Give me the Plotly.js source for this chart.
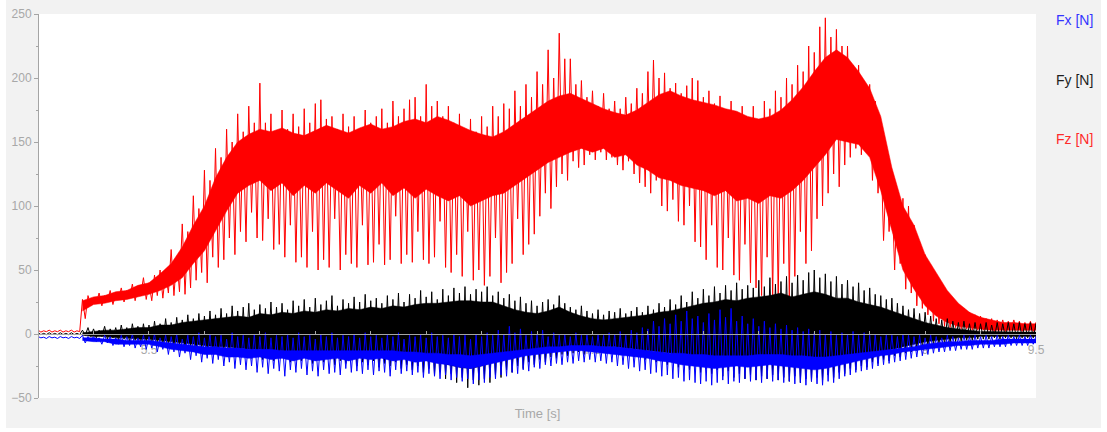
<!DOCTYPE html>
<html><head><meta charset="utf-8">
<script src="https://cdn.plot.ly/plotly-3.0.1.min.js"></script>
<style>html,body{margin:0;padding:0;background:#ffffff;}#chart{position:absolute;left:6px;top:0;width:1095px;height:428px;}</style>
</head><body><div id="chart"></div>
<script>
// ---- data ----
const seriesNames = ['Fx [N]', 'Fy [N]', 'Fz [N]'];
const xTitle = 'Time [s]';

// oscillation extremes: one peak and one trough per sample
const sigStart = 5.0, sigStep = 0.025;
const fzPeak = [3,2.5,3,2.5,3,2.5,3,2.5,27,
 30,28,32,30,34,32,36,34,39,37,
 44,40,46,50,48,66,60,86,80,
 108,98,128,120,145,138,160,150,172,158,178,165,
 196,165,172,158,175,160,172,162,176,165,
 180,183,168,170,160,172,162,170,160,175,
 165,170,176,165,182,170,176,183,185,170,
 195,178,182,170,178,165,172,160,168,158,
 170,162,178,170,180,176,190,178,195,185,
 205,195,222,200,235,215,215,195,198,185,
 190,178,188,176,182,176,185,180,192,188,
 205,214,200,204,192,196,188,194,200,198,
 185,190,180,186,175,182,170,178,168,178,
 165,182,176,190,185,200,195,210,205,225,
 220,240,247,232,238,225,225,210,210,195,
 195,182,150,130,118,110,106,100,85,72,
 62,54,45,38,32,27,23,20,17,15,
 14,12,12,11,11,10,11,10,9,10,9];
const fzTrough = [1.5,1.8,1.5,1.8,1.5,1.8,1.5,1.8,12,
 22,24,22,25,23,27,25,28,26,30,
 27,26,30,28,32,30,33,31,36,
 42,48,40,60,52,58,75,62,80,72,95,75,
 73,90,66,70,60,85,56,60,52,80,
 50,58,52,90,50,62,55,52,85,54,
 56,70,54,58,92,55,62,56,80,58,
 55,60,88,52,48,62,45,80,42,50,
 38,45,75,40,48,55,90,62,70,78,
 92,110,98,115,125,120,135,130,132,140,
 136,142,136,138,132,128,135,125,118,115,
 110,120,100,96,105,88,85,100,72,68,
 58,85,52,50,75,46,42,70,40,36,
 30,60,28,27,55,28,45,80,55,65,
 90,100,110,125,115,132,138,145,140,142,
 120,110,73,80,50,55,35,32,22,20,
 15,10,8,6,5,5,4,4,3,3,
 3,3,2,3,2,3,3,2,3,2,3];
const fyPeak = [1,0.5,1,0.5,1,0.5,1,0.5,3,5,
 4,3,6,4,5,7,5,8,6,8,
 7,10,8,12,9,13,11,15,12,16,
 14,18,15,20,16,22,18,21,24,19,
 23,20,25,21,24,19,26,22,27,21,
 28,23,26,30,22,27,24,29,25,31,
 26,28,24,30,27,32,25,31,28,34,
 29,33,27,35,30,36,32,37,31,35,
 33,37,30,33,28,31,26,29,24,26,
 22,25,27,23,30,24,21,19,22,18,
 16,19,15,18,17,20,16,18,21,17,
 22,19,24,21,27,23,30,25,33,28,
 35,30,37,32,38,34,40,35,38,36,
 42,37,44,39,41,45,40,46,42,48,
 50,44,47,41,45,39,42,37,40,34,
 36,31,30,27,28,24,22,19,20,16,
 17,14,12,11,12,10,9,10,8,9,
 8,9,7,9,8,9,8,9,8,9,8];
const fyTrough = [-0.5,-0.5,-0.5,-0.5,-0.5,-0.5,-0.5,-0.5,-1,-2,
 -3,-2,-4,-3,-5,-4,-6,-5,-7,-6,
 -8,-7,-9,-8,-10,-9,-12,-10,-13,-11,
 -14,-12,-15,-13,-17,-14,-18,-15,-19,-16,
 -20,-17,-21,-18,-19,-22,-18,-21,-19,-23,
 -20,-22,-19,-24,-21,-23,-20,-25,-22,-24,
 -21,-26,-23,-25,-22,-27,-24,-28,-25,-30,
 -27,-32,-29,-35,-31,-38,-34,-42,-36,-40,
 -35,-38,-32,-34,-28,-30,-25,-27,-22,-24,
 -20,-22,-18,-19,-16,-17,-15,-14,-16,-13,
 -14,-12,-15,-13,-14,-16,-15,-18,-16,-20,
 -18,-22,-20,-24,-22,-26,-24,-28,-25,-30,
 -27,-31,-28,-33,-29,-34,-31,-35,-32,-36,
 -33,-35,-32,-36,-34,-37,-33,-38,-35,-37,
 -34,-36,-32,-34,-30,-31,-27,-28,-25,-26,
 -22,-23,-20,-21,-17,-18,-15,-14,-13,-12,
 -10,-9,-8,-8,-7,-6,-6,-5,-5,-4,
 -4,-4,-3,-4,-3,-3,-4,-3,-3,-3,-3];
const fxPeak = [-2,-2.5,-2,-2.5,-2,-2.5,-2,-2.5,-1,-2,
 -2,-3,-1,-2,-3,-1,-2,0,-3,-1,
 -2,0,-3,-1,-2,0,-4,-1,-2,1,
 -3,0,-2,-1,-4,1,-2,-1,-3,0,
 -2,1,-3,-1,-2,0,-3,1,-2,-1,
 -4,0,-2,1,-3,-1,-2,0,-3,1,
 -2,-1,-3,0,-2,1,-4,-1,-2,0,
 -3,1,-2,-1,-3,0,-2,-1,-4,0,
 -2,1,-1,3,0,6,1,4,-1,2,
 0,3,-2,1,-1,0,-2,1,-1,0,
 -2,0,-1,1,0,2,-1,3,1,5,
 4,10,6,12,8,15,10,18,12,14,
 9,16,11,19,13,20,10,14,8,12,
 6,10,5,8,4,7,3,5,2,4,
 1,3,0,2,-1,1,0,2,-1,1,
 -1,0,-2,0,-1,-2,0,-1,-2,-1,
 -3,-1,-2,-3,-1,-2,-3,-1,-2,-1,
 -2,-1,-2,-1,-2,-1,-2,-1,-2,-1,-2];
const fxTrough = [-3,-3.5,-3,-3.5,-3,-3.5,-3,-3.5,-7,-5,
 -6,-8,-7,-9,-8,-10,-9,-11,-10,-12,
 -11,-14,-12,-16,-14,-18,-15,-20,-17,-22,
 -19,-23,-20,-25,-22,-27,-24,-28,-25,-30,
 -26,-31,-27,-29,-33,-28,-30,-27,-32,-29,
 -33,-28,-31,-30,-32,-27,-30,-29,-31,-28,
 -32,-29,-30,-33,-28,-31,-29,-32,-30,-34,
 -31,-33,-35,-32,-36,-34,-37,-35,-39,-36,
 -38,-34,-35,-32,-33,-30,-31,-28,-29,-26,
 -27,-24,-25,-23,-24,-22,-23,-21,-22,-20,
 -22,-21,-23,-22,-25,-24,-27,-26,-29,-28,
 -31,-30,-33,-32,-35,-34,-37,-36,-38,-39,
 -37,-40,-38,-36,-39,-37,-38,-35,-37,-36,
 -38,-35,-37,-36,-38,-37,-39,-38,-40,-37,
 -39,-40,-37,-38,-35,-33,-32,-30,-29,-28,
 -27,-25,-24,-23,-22,-21,-20,-19,-18,-17,
 -16,-15,-14,-14,-13,-13,-12,-12,-12,-11,
 -11,-11,-10,-10,-10,-9,-9,-9,-9,-8,-8];

// dense core of each signal (where most of the oscillation sits)
const coreStart = 5.2, coreStep = 0.05;
const fzCoreHi = [26,29,30,33,34,38,40,47,55,68,
 85,100,122,138,150,156,160,158,161,157,
 155,159,163,160,157,161,164,160,162,166,
 168,165,170,167,163,159,156,154,158,164,
 170,176,182,186,188,184,180,176,173,171,
 175,181,187,190,186,183,181,179,176,174,
 170,168,170,175,183,193,205,216,222,216,
 205,192,170,130,100,85,62,48,34,24,
 17,13,11,9,9,8,8];
const fzCoreLo = [18,23,24,26,27,29,31,34,38,44,
 55,65,80,96,110,116,120,112,118,108,
 116,110,118,112,106,116,110,118,108,114,
 106,113,108,104,108,100,104,108,110,116,
 122,128,134,138,142,145,142,145,138,140,
 132,128,122,120,116,114,112,108,112,104,
 106,102,108,106,112,120,130,140,152,150,
 148,138,112,80,50,35,22,14,9,6,
 5,4,3,3,3,3,3];
const fyCoreHi = [1,2,3,3,4,5,5,7,7,9,
 10,11,12,13,14,13,16,15,17,16,
 18,17,19,18,20,19,21,20,22,21,
 23,24,24,25,26,26,25,25,22,19,
 17,16,18,21,17,14,12,11,12,13,
 14,15,17,18,20,22,24,25,27,26,
 28,29,30,32,29,31,33,31,28,28,
 25,23,21,18,15,12,9,7,5,4,
 3,2,2,1.5,1.5,1.5,1.5];
const fyCoreLo = [-1,-2,-2,-3,-3,-4,-4,-5,-6,-7,
 -8,-9,-10,-10,-11,-12,-12,-13,-13,-14,
 -14,-15,-15,-16,-16,-16,-17,-17,-18,-18,
 -19,-20,-22,-24,-26,-27,-25,-22,-19,-16,
 -14,-12,-12,-12,-11,-10,-10,-10,-10,-11,
 -12,-13,-14,-15,-16,-17,-18,-19,-20,-20,
 -21,-21,-22,-22,-23,-23,-24,-23,-22,-20,
 -18,-16,-14,-12,-10,-8,-6,-5,-4,-3,
 -3,-2,-2,-2,-2,-2,-2];
const fxCoreHi = [-3,-3,-4,-4,-5,-5,-5,-6,-7,-8,
 -9,-10,-10,-11,-11,-12,-12,-12,-13,-13,
 -13,-13,-13,-13,-13,-13,-13,-13,-13,-14,
 -14,-15,-15,-16,-16,-17,-16,-15,-14,-13,
 -12,-11,-10,-10,-9,-9,-9,-10,-10,-11,
 -12,-13,-14,-15,-15,-16,-16,-17,-17,-17,
 -17,-16,-16,-16,-17,-17,-18,-18,-17,-16,
 -15,-14,-13,-12,-11,-10,-8,-7,-6,-6,
 -5,-5,-5,-4,-4,-4,-4];
const fxCoreLo = [-5,-6,-6,-8,-8,-8,-8,-10,-12,-13,
 -14,-16,-16,-18,-18,-19,-18,-20,-19,-21,
 -19,-21,-20,-19,-21,-19,-20,-19,-21,-20,
 -22,-21,-23,-24,-26,-27,-25,-23,-21,-19,
 -17,-16,-15,-14,-13,-13,-14,-15,-16,-17,
 -18,-19,-21,-22,-24,-25,-26,-27,-26,-25,
 -26,-25,-24,-25,-26,-27,-28,-27,-25,-23,
 -21,-19,-17,-16,-14,-13,-12,-11,-10,-9,
 -9,-8,-8,-8,-7,-7,-7];

// ---- build traces ----
function zigzag(start, step, peaks, troughs) {
  const x = [], y = [];
  for (let i = 0; i < peaks.length; i++) {
    const t = start + i * step;
    x.push(t, t + step / 2);
    y.push(peaks[i], troughs[i]);
  }
  return {x, y};
}
function band(start, step, hi, lo) {
  const t = hi.map((_, i) => start + i * step);
  return {x: t.concat(t.slice().reverse()), y: hi.concat(lo.slice().reverse())};
}
const colors = {Fx: '#0000ff', Fy: '#000000', Fz: '#ff0000'};
function coreTrace(b, c) {
  return {x: b.x, y: b.y, type: 'scatter', mode: 'lines', fill: 'toself', fillcolor: c,
    line: {width: 0.5, color: c}, hoverinfo: 'skip', showlegend: false};
}
function sigTrace(z, c, name) {
  return {x: z.x, y: z.y, type: 'scatter', mode: 'lines', name: name,
    line: {width: 1, color: c}, showlegend: false};
}
const data = [
  coreTrace(band(coreStart, coreStep, fzCoreHi, fzCoreLo), colors.Fz),
  sigTrace(zigzag(sigStart, sigStep, fzPeak, fzTrough), colors.Fz, seriesNames[2]),
  coreTrace(band(coreStart, coreStep, fyCoreHi, fyCoreLo), colors.Fy),
  sigTrace(zigzag(sigStart, sigStep, fyPeak, fyTrough), colors.Fy, seriesNames[1]),
  coreTrace(band(coreStart, coreStep, fxCoreHi, fxCoreLo), colors.Fx),
  sigTrace(zigzag(sigStart, sigStep, fxPeak, fxTrough), colors.Fx, seriesNames[0])
];

const xRange = [5.004, 9.5];
const yRange = [-50, 250];
const zeroPos = (0 - yRange[0]) / (yRange[1] - yRange[0]);
const axisGray = '#a5a5a5';
const textGray = '#a8a8a8';
const font = 'Arial, "Liberation Sans", sans-serif';

const layout = {
  width: 1095, height: 428,
  paper_bgcolor: '#f2f2f2', plot_bgcolor: '#ffffff',
  margin: {l: 33, r: 65, t: 14, b: 30, pad: 0},
  showlegend: false,
  font: {family: font, size: 12, color: textGray},
  xaxis: {range: xRange, anchor: 'y', showline: false, ticks: '', showticklabels: false,
    showgrid: false, zeroline: false, fixedrange: true,
    title: {text: xTitle, font: {size: 13, color: textGray}, standoff: 10}},
  xaxis2: {overlaying: 'x', matches: 'x', range: xRange, anchor: 'free', position: zeroPos,
    layer: 'below traces', showline: false, ticks: '', showticklabels: true, ticklabelstandoff: 7,
    tick0: 5.5, dtick: 0.5, tickfont: {size: 12, color: textGray},
    showgrid: false, zeroline: false},
  xaxis3: {overlaying: 'x', matches: 'x', range: xRange, anchor: 'free', position: zeroPos,
    layer: 'above traces', showline: true, linecolor: axisGray, linewidth: 1,
    ticks: 'inside', ticklen: 3, tickcolor: axisGray, tick0: 5.5, dtick: 0.25,
    showticklabels: false, showgrid: false, zeroline: false},
  yaxis: {range: yRange, showline: true, linecolor: axisGray, linewidth: 1,
    ticks: 'outside', ticklen: 4, tickcolor: axisGray, dtick: 50, tick0: 0,
    minor: {dtick: 25, ticks: 'outside', ticklen: 2, tickcolor: axisGray, showgrid: false},
    tickfont: {size: 12, color: textGray}, showgrid: false, zeroline: false},
  annotations: [
    {text: seriesNames[0], font: {size: 14, color: '#3535ff'}, y: 0.984},
    {text: seriesNames[1], font: {size: 14, color: '#1e1e1e'}, y: 0.828},
    {text: seriesNames[2], font: {size: 14, color: '#ff2b2b'}, y: 0.675}
  ].map(a => Object.assign({xref: 'paper', yref: 'paper', x: 1.0595, xanchor: 'right',
    yanchor: 'middle', showarrow: false}, a))
};

Plotly.newPlot('chart', data.concat([
  {x: [], y: [], xaxis: 'x2', type: 'scatter', showlegend: false, hoverinfo: 'skip'},
  {x: [], y: [], xaxis: 'x3', type: 'scatter', showlegend: false, hoverinfo: 'skip'}
]), layout, {staticPlot: true});
</script></body></html>
